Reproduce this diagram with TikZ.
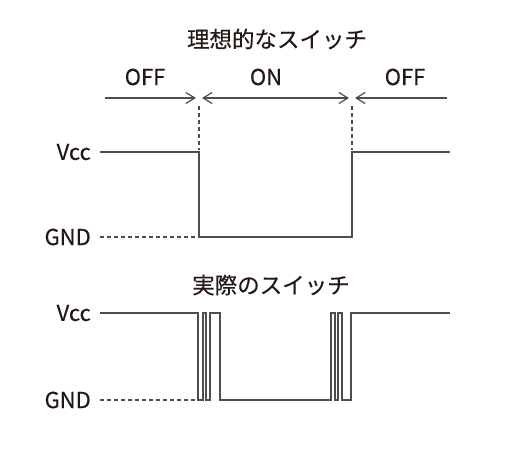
\documentclass[tikz,border=0pt]{standalone}
\usepackage{fontspec}
\setmainfont{Noto Sans CJK JP}[FakeBold=0.35]
\usetikzlibrary{arrows.meta}
\definecolor{wavegray}{HTML}{4F4C4C}
\definecolor{labelgray}{HTML}{231815}

\begin{document}
\begin{tikzpicture}[x=1pt,y=-1pt,
  wave/.style={wavegray, line width=1.4pt},
  guide/.style={wavegray, line width=1.1pt, dash pattern=on 4pt off 3pt},
  lbl/.style={labelgray, font=\fontsize{22}{24}\selectfont, inner sep=0pt},
  span/.style={wavegray, line width=1.2pt}]
  \tikzset{barb/.tip={Straight Barb[length=9pt,width=11pt,line width=1.2pt]}}
  \useasboundingbox (0,0) rectangle (508,448);

  % ideal switch
  \node[lbl, font=\fontsize{22.5}{24}\selectfont] (ideal) at (277,39) {理想的なスイッチ};
  \node[lbl] (offA) at (145,77) {OFF};
  \node[lbl] (onA) at (266,77) {ON};
  \node[lbl] (offB) at (405,77) {OFF};
  \coordinate (spanA) at (105,98);
  \coordinate (cutA) at (199,98);
  \coordinate (cutB) at (352,98);
  \coordinate (spanB) at (447,98);
  \draw[span, -barb] (spanA) -- ([xshift=-3pt]cutA);
  \draw[span, barb-barb] ([xshift=3pt]cutA) -- ([xshift=-3pt]cutB);
  \draw[span, -barb] (spanB) -- ([xshift=3pt]cutB);
  \draw[guide] ([yshift=-8pt]cutA) -- (199,150);
  \draw[guide] ([yshift=-8pt]cutB) -- (352,150);

  \node[lbl, anchor=east] (vccA) at (91,152) {Vcc};
  \node[lbl, anchor=east] (gndA) at (91,237) {GND};
  \draw[wave] (100,152) -- (199,152) -- (199,237) -- (352,237) -- (352,152) -- (450,152);
  \draw[guide] (100,237) -- (198,237);

  % real switch with bounce
  \node[lbl, font=\fontsize{22.5}{24}\selectfont] (real) at (271,285) {実際のスイッチ};
  \node[lbl, anchor=east] (vccB) at (91,313) {Vcc};
  \node[lbl, anchor=east] (gndB) at (91,400) {GND};
  \draw[wave] (100,313) -- (198,313) -- (198,400) -- (203,400) -- (203,313)
    -- (206,313) -- (206,400) -- (210,400) -- (210,313) -- (220,313)
    -- (220,400) -- (331,400) -- (331,313) -- (335,313) -- (335,400)
    -- (338,400) -- (338,313) -- (342,313) -- (342,400) -- (351,400)
    -- (351,313) -- (450,313);
  \draw[guide] (100,400) -- (197,400);
\end{tikzpicture}
\end{document}
